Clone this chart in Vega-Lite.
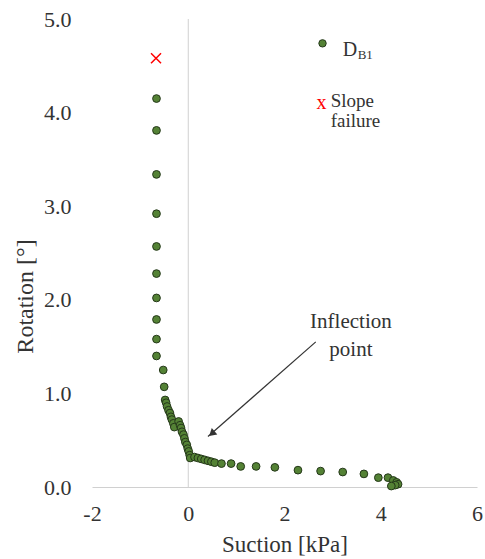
{
  "$schema": "https://vega.github.io/schema/vega-lite/v6.json",
  "width": 385,
  "height": 468,
  "autosize": {"type": "none"},
  "padding": {"left": 92, "top": 19, "right": 8, "bottom": 72},
  "background": "white",
  "config": {
    "view": {"stroke": null},
    "font": "'Times New Roman', 'Liberation Serif', serif",
    "text": {"font": "'Times New Roman', 'Liberation Serif', serif", "color": "#333333"}
  },
  "encoding": {
    "x": {
      "field": "suction",
      "type": "quantitative",
      "scale": {"domain": [-2, 6], "nice": false, "zero": false},
      "axis": {
        "title": "Suction [kPa]",
        "values": [-2, 0, 2, 4, 6],
        "labelExpr": "'' + datum.value",
        "grid": false,
        "ticks": false,
        "domainColor": "#d0d0d0",
        "domainWidth": 1,
        "labelFont": "'Times New Roman', 'Liberation Serif', serif",
        "labelFontSize": 22,
        "labelColor": "#333333",
        "labelPadding": 16,
        "labelFlush": false,
        "titleFont": "'Times New Roman', 'Liberation Serif', serif",
        "titleFontSize": 23,
        "titleFontWeight": "normal",
        "titleColor": "#333333",
        "titlePadding": 9
      }
    },
    "y": {
      "field": "rotation",
      "type": "quantitative",
      "scale": {"domain": [0, 5], "nice": false, "zero": false},
      "axis": {
        "title": "Rotation [°]",
        "values": [0, 1, 2, 3, 4, 5],
        "format": ".1f",
        "grid": false,
        "ticks": false,
        "domain": false,
        "labelFont": "'Times New Roman', 'Liberation Serif', serif",
        "labelFontSize": 22,
        "labelColor": "#333333",
        "labelPadding": 21,
        "labelFlush": false,
        "titleFont": "'Times New Roman', 'Liberation Serif', serif",
        "titleFontSize": 24,
        "titleFontWeight": "normal",
        "titleColor": "#333333",
        "titleX": -67,
        "titleY": 277,
        "titleAlign": "center",
        "titleBaseline": "middle"
      }
    }
  },
  "layer": [
    {
      "data": {"values": [{"suction": 0, "rotation": 0, "rotation_top": 5}]},
      "mark": {"type": "rule", "color": "#d0d0d0", "strokeWidth": 1},
      "encoding": {"y2": {"field": "rotation_top"}}
    },
    {
      "data": {"values": [
        {"suction": -0.66, "rotation": 4.15}, {"suction": -0.66, "rotation": 3.81},
        {"suction": -0.66, "rotation": 3.34}, {"suction": -0.66, "rotation": 2.92},
        {"suction": -0.66, "rotation": 2.57}, {"suction": -0.66, "rotation": 2.28},
        {"suction": -0.66, "rotation": 2.02}, {"suction": -0.66, "rotation": 1.79},
        {"suction": -0.66, "rotation": 1.58}, {"suction": -0.66, "rotation": 1.40},
        {"suction": -0.52, "rotation": 1.25}, {"suction": -0.50, "rotation": 1.07},
        {"suction": -0.48, "rotation": 0.93}, {"suction": -0.46, "rotation": 0.90},
        {"suction": -0.44, "rotation": 0.86}, {"suction": -0.41, "rotation": 0.82},
        {"suction": -0.38, "rotation": 0.79}, {"suction": -0.36, "rotation": 0.75},
        {"suction": -0.34, "rotation": 0.72}, {"suction": -0.31, "rotation": 0.68},
        {"suction": -0.29, "rotation": 0.64}, {"suction": -0.20, "rotation": 0.70},
        {"suction": -0.17, "rotation": 0.66}, {"suction": -0.15, "rotation": 0.63},
        {"suction": -0.13, "rotation": 0.59}, {"suction": -0.10, "rotation": 0.56},
        {"suction": -0.08, "rotation": 0.52}, {"suction": -0.06, "rotation": 0.48},
        {"suction": -0.03, "rotation": 0.45}, {"suction": -0.01, "rotation": 0.41},
        {"suction": 0.01, "rotation": 0.38}, {"suction": 0.03, "rotation": 0.34},
        {"suction": 0.04, "rotation": 0.31}, {"suction": 0.13, "rotation": 0.32},
        {"suction": 0.20, "rotation": 0.31}, {"suction": 0.27, "rotation": 0.30},
        {"suction": 0.34, "rotation": 0.29}, {"suction": 0.41, "rotation": 0.28},
        {"suction": 0.48, "rotation": 0.27}, {"suction": 0.55, "rotation": 0.26},
        {"suction": 0.69, "rotation": 0.25}, {"suction": 0.89, "rotation": 0.25},
        {"suction": 1.09, "rotation": 0.22}, {"suction": 1.41, "rotation": 0.22},
        {"suction": 1.80, "rotation": 0.21}, {"suction": 2.28, "rotation": 0.18},
        {"suction": 2.75, "rotation": 0.17}, {"suction": 3.21, "rotation": 0.16},
        {"suction": 3.65, "rotation": 0.14}, {"suction": 3.95, "rotation": 0.10},
        {"suction": 4.15, "rotation": 0.10}, {"suction": 4.26, "rotation": 0.07},
        {"suction": 4.33, "rotation": 0.05}, {"suction": 4.36, "rotation": 0.03},
        {"suction": 4.30, "rotation": 0.02}, {"suction": 4.22, "rotation": 0.01}
      ]},
      "mark": {"type": "point", "shape": "circle", "filled": true, "fill": "#548235", "stroke": "#25381a", "strokeWidth": 1, "size": 60, "opacity": 1}
    },
    {
      "data": {"values": [{"suction": -0.67, "rotation": 4.58}]},
      "mark": {"type": "point", "shape": "M-1,-1L1,1M1,-1L-1,1", "filled": false, "stroke": "#ff0000", "strokeWidth": 1.5, "size": 100, "opacity": 1}
    },
    {
      "data": {"values": [{"suction": 2.65, "rotation": 1.55, "suction_end": 0.41, "rotation_end": 0.54}]},
      "mark": {"type": "rule", "color": "#333333", "strokeWidth": 1.2},
      "encoding": {"x2": {"field": "suction_end"}, "y2": {"field": "rotation_end"}}
    },
    {
      "data": {"values": [{"suction": 0.49, "rotation": 0.57}]},
      "mark": {"type": "point", "shape": "triangle-up", "filled": true, "fill": "#333333", "stroke": null, "size": 70, "angle": 228.5, "opacity": 1}
    },
    {
      "data": {"values": [{"label": "Inflection\npoint", "suction": 3.38, "rotation": 1.70}]},
      "mark": {"type": "text", "align": "center", "baseline": "alphabetic", "fontSize": 21, "lineBreak": "\n", "lineHeight": 28},
      "encoding": {"text": {"field": "label"}}
    },
    {
      "data": {"values": [{"suction": 2.79, "rotation": 4.74}]},
      "mark": {"type": "point", "shape": "circle", "filled": true, "fill": "#548235", "stroke": "#25381a", "strokeWidth": 1, "size": 55, "opacity": 1}
    },
    {
      "data": {"values": [{"label": "D", "suction": 3.21, "rotation": 4.61}]},
      "mark": {"type": "text", "align": "left", "baseline": "alphabetic", "fontSize": 20},
      "encoding": {"text": {"field": "label"}}
    },
    {
      "data": {"values": [{"label": "Slope\nfailure", "suction": 2.96, "rotation": 4.06}]},
      "mark": {"type": "text", "align": "left", "baseline": "alphabetic", "fontSize": 19, "lineBreak": "\n", "lineHeight": 20},
      "encoding": {"text": {"field": "label"}}
    },
    {
      "data": {"values": [{"label": "B1", "suction": 3.52, "rotation": 4.57}]},
      "mark": {"type": "text", "align": "left", "baseline": "alphabetic", "fontSize": 13},
      "encoding": {"text": {"field": "label"}}
    },
    {
      "data": {"values": [{"label": "x", "suction": 2.77, "rotation": 4.04}]},
      "mark": {"type": "text", "align": "center", "baseline": "alphabetic", "fontSize": 20, "color": "#ff0000"},
      "encoding": {"text": {"field": "label"}}
    }
  ]
}
